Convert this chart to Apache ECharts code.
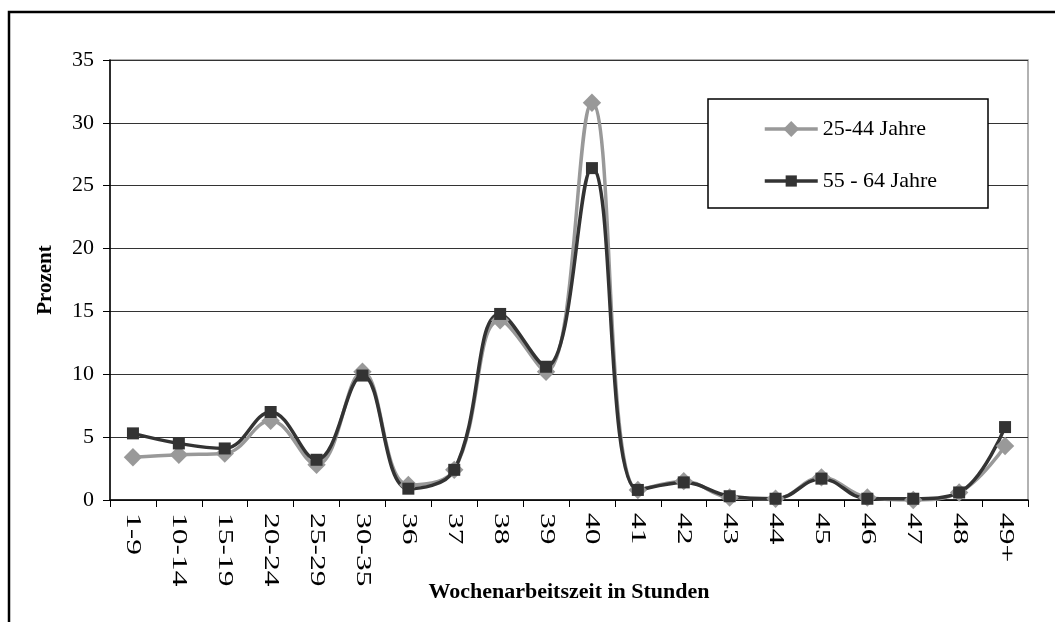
<!DOCTYPE html>
<html>
<head>
<meta charset="utf-8">
<script src="https://cdn.jsdelivr.net/npm/echarts@6/dist/echarts.min.js"></script>
<style>
  html, body { margin: 0; padding: 0; background: #fff; }
  #chart { width: 1055px; height: 622px; }
</style>
</head>
<body>
<div id="chart"></div>
<script>
// Kategorien (Wochenarbeitszeit) und Werte in Prozent
const stunden = ['1-9', '10-14', '15-19', '20-24', '25-29', '30-35', '36', '37', '38', '39',
                 '40', '41', '42', '43', '44', '45', '46', '47', '48', '49+'];
const jahre25bis44 = [3.4, 3.6, 3.7, 6.3, 2.8, 10.2, 1.2, 2.4, 14.3, 10.2,
                      31.6, 0.8, 1.5, 0.2, 0.1, 1.8, 0.2, 0.0, 0.6, 4.3];
const jahre55bis64 = [5.3, 4.5, 4.1, 7.0, 3.2, 9.9, 0.9, 2.4, 14.8, 10.6,
                      26.4, 0.8, 1.4, 0.3, 0.1, 1.7, 0.1, 0.1, 0.6, 5.8];
const serienNamen = ['25-44 Jahre', '55 - 64 Jahre'];

const schrift = '"Liberation Serif", "Times New Roman", serif';

// Rahmen ums Diagramm und Kasten der Legende
const rahmen = [
  { type: 'rect', id: 'rahmen', z: 0, shape: { x: 9, y: 12, width: 1100, height: 700 },
    style: { fill: 'none', stroke: '#000', lineWidth: 2.5 } },
  { type: 'rect', id: 'legendBox', z: 3, shape: { x: 708, y: 99, width: 280, height: 109 },
    style: { fill: '#fff', stroke: '#000', lineWidth: 1.5 } }
];

let myChart = echarts.init(document.getElementById('chart'));
myChart.setOption({
  animation: false,
  backgroundColor: '#fff',
  textStyle: { fontFamily: schrift },
  grid: {
    left: 110, right: 27, top: 60, bottom: 122,
    show: true, borderColor: '#999', borderWidth: 1.5, backgroundColor: 'transparent'
  },
  graphic: rahmen,
  legend: {
    z: 5,
    orient: 'vertical',
    left: 763, top: 118,
    padding: 0,
    itemWidth: 53, itemHeight: 14, itemGap: 30,
    lineStyle: { width: 3.5 },
    textStyle: { fontFamily: schrift, fontSize: 22, color: '#000' },
    data: serienNamen
  },
  xAxis: {
    type: 'category',
    data: stunden,
    name: 'Wochenarbeitszeit in Stunden',
    nameLocation: 'middle',
    nameGap: 81,
    nameTextStyle: { fontFamily: schrift, fontSize: 22, fontWeight: 'bold', color: '#000' },
    axisLine: { lineStyle: { color: '#000', width: 1.5 } },
    axisTick: { show: true, length: 7, lineStyle: { color: '#000' } },
    axisLabel: { show: false }
  },
  yAxis: {
    type: 'value',
    min: 0, max: 35, interval: 5,
    name: 'Prozent',
    nameLocation: 'middle',
    nameGap: 54,
    nameTextStyle: { fontFamily: schrift, fontSize: 21, fontWeight: 'bold', color: '#000' },
    axisLine: { show: true, lineStyle: { color: '#000', width: 1.5 } },
    axisTick: { show: true, length: 7, lineStyle: { color: '#000' } },
    axisLabel: { margin: 16, fontFamily: schrift, fontSize: 22, color: '#000' },
    splitLine: { lineStyle: { color: '#333', width: 1 } }
  },
  series: [
    {
      name: serienNamen[0],
      type: 'line',
      data: jahre25bis44,
      smooth: 0.4,
      color: '#999999',
      lineStyle: { color: '#999999', width: 3.5 },
      symbol: 'rect', symbolSize: 13, symbolRotate: 45,
      itemStyle: { color: '#999999' }
    },
    {
      name: serienNamen[1],
      type: 'line',
      data: jahre55bis64,
      smooth: 0.4,
      color: '#333333',
      lineStyle: { color: '#333333', width: 3.5 },
      symbol: 'rect', symbolSize: 12,
      itemStyle: { color: '#333333' }
    }
  ]
});

// Kategorienbeschriftung: senkrecht, in Leserichtung gestreckt wie im Original
const achsenY = myChart.convertToPixel({ yAxisIndex: 0 }, 0);
const beschriftung = stunden.map((s, i) => ({
  type: 'text',
  id: 'kat' + i,
  z: 4,
  x: myChart.convertToPixel({ xAxisIndex: 0 }, s),
  y: achsenY + 13,
  rotation: -Math.PI / 2,
  scaleX: 1.5,
  style: {
    text: s,
    fontFamily: schrift,
    fontSize: 21,
    fill: '#000',
    align: 'left',
    verticalAlign: 'middle'
  }
}));
myChart.setOption({ graphic: rahmen.concat(beschriftung) });
</script>
</body>
</html>
